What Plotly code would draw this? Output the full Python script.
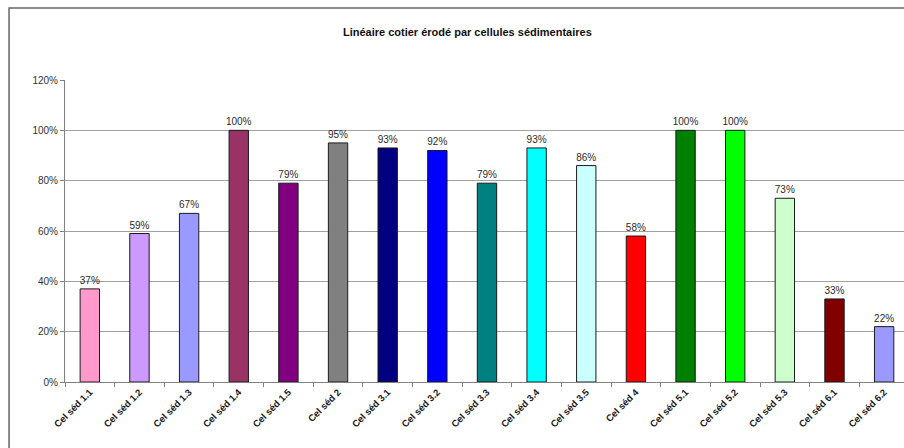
import plotly.graph_objects as go

# Eroded coastline share per sedimentary cell
categories = ["Cel séd 1.1", "Cel séd 1.2", "Cel séd 1.3", "Cel séd 1.4", "Cel séd 1.5",
              "Cel séd 2", "Cel séd 3.1", "Cel séd 3.2", "Cel séd 3.3", "Cel séd 3.4",
              "Cel séd 3.5", "Cel séd 4", "Cel séd 5.1", "Cel séd 5.2", "Cel séd 5.3",
              "Cel séd 6.1", "Cel séd 6.2"]
values = [0.37, 0.59, 0.67, 1.00, 0.79, 0.95, 0.93, 0.92, 0.79, 0.93,
          0.86, 0.58, 1.00, 1.00, 0.73, 0.33, 0.22]
colors = ["#FF99CC", "#CC99FF", "#9999FF", "#993366", "#800080", "#808080",
          "#000080", "#0000FF", "#008080", "#00FFFF", "#CCFFFF", "#FF0000",
          "#008000", "#00FF00", "#CCFFCC", "#800000", "#9999FF"]
y_ticks = [0, 0.2, 0.4, 0.6, 0.8, 1.0, 1.2]

fig = go.Figure(go.Bar(
    x=categories,
    y=values,
    width=0.39,
    marker=dict(color=colors, line=dict(color="#1a1a1a", width=1)),
    text=[f"{round(v * 100)}%" for v in values],
    textposition="outside",
    constraintext="none",
    textfont=dict(family="Liberation Sans, Arial", size=10, color="#2b2b2b"),
    cliponaxis=False,
    hoverinfo="x+y",
))

fig.update_layout(
    width=904, height=448,
    margin=dict(l=65, r=0, t=80, b=66),
    paper_bgcolor="white", plot_bgcolor="white",
    showlegend=False,
    title=dict(
        text="<b>Linéaire cotier érodé par cellules sédimentaires</b>",
        x=0.517, xanchor="center", y=0.929, yanchor="middle",
        font=dict(family="Liberation Sans, Arial", size=11, color="#111111"),
    ),
    xaxis=dict(
        range=[-0.5, 16.4],
        tickangle=-45,
        tickfont=dict(family="Liberation Sans, Arial", size=9.5, color="#1a1a1a",
                      weight="bold"),
        ticks="outside", tickson="boundaries", ticklen=4,
        tickcolor="#808080",
        showline=True, linecolor="#808080", linewidth=1,
        showgrid=False, zeroline=False,
    ),
    yaxis=dict(
        range=[0, 1.2],
        tickvals=y_ticks,
        tickformat=".0%",
        tickfont=dict(family="Liberation Sans, Arial", size=10, color="#333333"),
        ticks="outside", ticklen=4, tickcolor="#808080",
        showline=True, linecolor="#808080", linewidth=1,
        showgrid=True, gridcolor="#A0A0A0", gridwidth=1,
        zeroline=False,
    ),
    shapes=[dict(
        type="rect", xref="paper", yref="paper",
        x0=-0.0667, x1=1.5, y0=-0.5, y1=1.2385,
        line=dict(color="#666666", width=1.5),
        layer="below",
    )],
)

fig.write_html("out.html")
